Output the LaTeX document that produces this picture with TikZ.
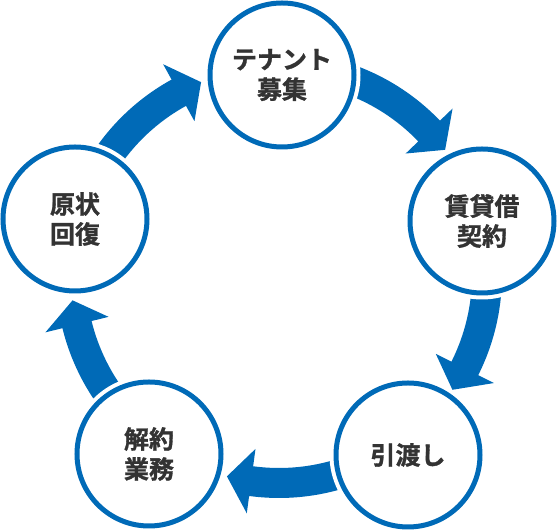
\documentclass[tikz,border=0pt]{standalone}
\usepackage{fontspec}
\usepackage{tikz}
\usetikzlibrary{calc}
\newfontfamily\jpfont{Noto Sans CJK JP Bold}[FakeBold=1.2]
\definecolor{CycleBlue}{RGB}{0,106,183}
\definecolor{CycleText}{RGB}{51,51,51}
\newcommand{\CycleArrow}[3]{
	\def\ltail{#2}
	\def\ltip{#3}
	\pgfmathsetmacro{\lbase}{\ltip+6.8}
	\def\lradius{208}
	\def\lshaft{15}
	\def\lhead{32.5}
	\begin{scope}[shift={(#1)}]
		\fill[CycleBlue] (\ltail:\lradius+\lshaft) arc[start angle=\ltail, end angle=\lbase, radius=\lradius+\lshaft] -- (\lbase:\lradius+\lhead) -- (\ltip:\lradius) -- (\lbase:\lradius-\lhead) -- (\lbase:\lradius-\lshaft) arc[start angle=\lbase, end angle=\ltail, radius=\lradius-\lshaft] -- cycle;
	\end{scope}
}
\tikzset{
	stage/.style={circle, draw=CycleBlue, line width=5pt, fill=white, minimum size=144pt, inner sep=0pt, align=center, text=CycleText, font=\jpfont\fontsize{25}{30}\selectfont, preaction={draw=white, line width=13pt}}
}

\begin{document}
\begin{tikzpicture}[x=1pt, y=1pt]

	\useasboundingbox (0,0) rectangle (558,532);
	\coordinate (hub) at (279,257);

	\CycleArrow{hub}{81}{37}
	\CycleArrow{hub}{7}{-33.5}
	\CycleArrow{hub}{-62}{-104.5}
	\CycleArrow{hub}{-134}{-173}
	\CycleArrow{hub}{156.6}{112}

	\node[stage] (tenant) at (282,457) {テナント\\募集};
	\node[stage] (contract) at (482,311) {賃貸借\\契約};
	\node[stage] (handover) at (408,77) {引渡し};
	\node[stage] (cancel) at (149,78) {解約\\業務};
	\node[stage] (restore) at (75,313) {原状\\回復};

\end{tikzpicture}
\end{document}
